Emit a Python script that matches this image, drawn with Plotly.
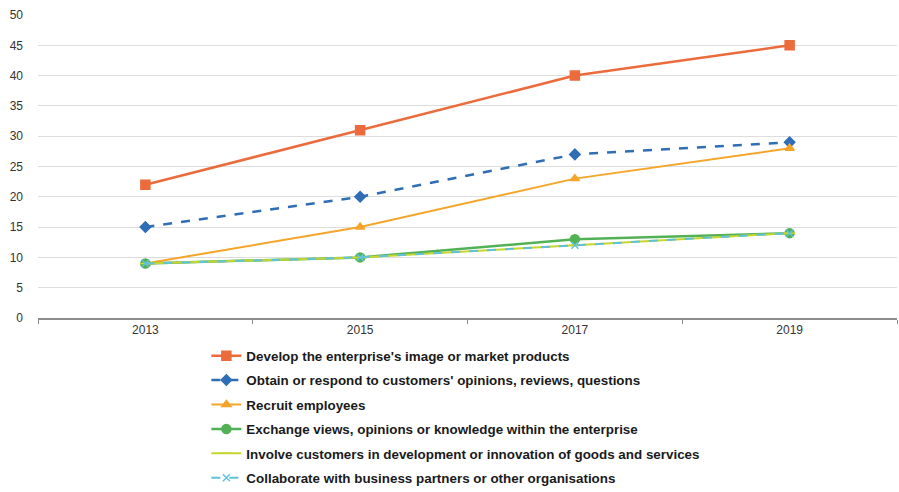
import plotly.graph_objects as go

years = ["2013", "2015", "2017", "2019"]

develop = [22, 31, 40, 45]
obtain = [15, 20, 27, 29]
recruit = [9, 15, 23, 28]
exchange = [9, 10, 13, 14]
involve = [9, 10, 12, 14]
collaborate = [9, 10, 12, 14]

names = [
    "Develop the enterprise's image or market products",
    "Obtain or respond to customers' opinions, reviews, questions",
    "Recruit employees",
    "Exchange views, opinions or knowledge within the enterprise",
    "Involve customers in development or innovation of goods and services",
    "Collaborate with business partners or other organisations",
]

series = [
    (develop, "#EC6B3C", "solid", "square", 9, 2.5),
    (obtain, "#2F6EB5", "dash", "diamond", 8, 2.5),
    (recruit, "#F4A52A", "solid", "triangle-up", 8, 2),
    (exchange, "#52B155", "solid", "circle", 9, 2.5),
    (involve, "#C6D630", "solid", "line-ew", 8, 2),
    (collaborate, "#5FC2DC", "dash", "x-thin", 7, 2),
]

fig = go.Figure()
for i, (vals, color, dash, sym, size, width) in enumerate(series):
    fig.add_trace(go.Scatter(
        x=years, y=vals, name=names[i], mode="lines+markers",
        legendgroup=f"g{i}",
        line=dict(color=color, width=width, dash=dash),
        marker=dict(symbol=sym, size=size, color=color,
                    line=dict(color=color, width=1.5)),
    ))

fig.update_layout(
    width=899, height=492,
    margin=dict(l=38, r=2, t=15, b=174),
    plot_bgcolor="white", paper_bgcolor="white",
    font=dict(family="Liberation Sans, Arial, sans-serif", size=12, color="#333333"),
    showlegend=True,
    legend=dict(
        x=0.196, xanchor="left",
        y=0.308, yref="container", yanchor="top",
        font=dict(size=13.4, color="#1a1a1a", weight="bold",
                  family="Liberation Sans, Arial, sans-serif"),
        traceorder="grouped", tracegroupgap=4,
        itemwidth=30, bgcolor="rgba(0,0,0,0)",
    ),
)
fig.update_xaxes(
    type="category", range=[-0.5, 3.5],
    showgrid=False, showline=True, linecolor="#8c8c8c", linewidth=1.5,
    ticks="outside", tickson="boundaries", ticklen=4, tickcolor="#8c8c8c",
    tickfont=dict(size=12, color="#333333"),
)
fig.update_yaxes(
    range=[0, 50], dtick=5, showgrid=True, gridcolor="#dddddd", gridwidth=1,
    zeroline=False, showline=False, ticks="", ticklabelstandoff=14,
    tickfont=dict(size=12, color="#333333"),
)

fig.write_html("out.html")
